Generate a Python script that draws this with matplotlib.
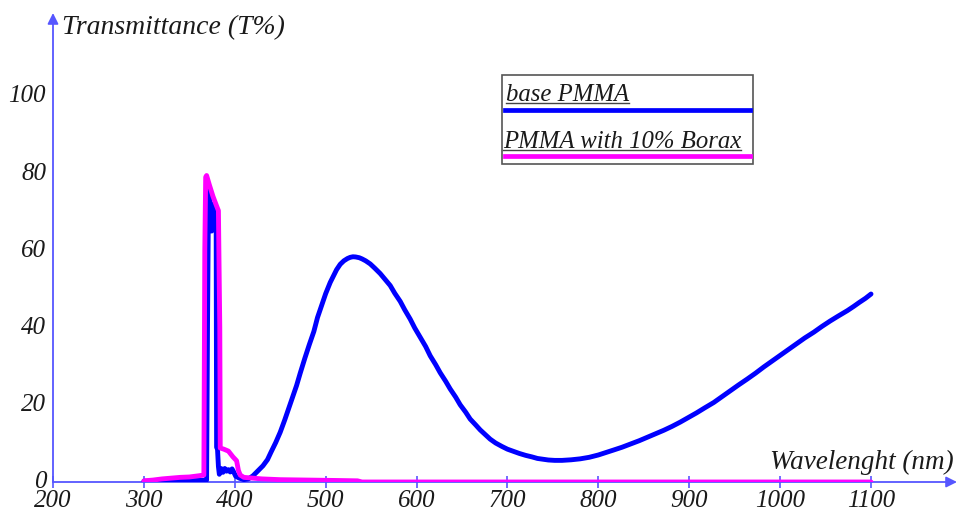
import matplotlib
matplotlib.use('Agg')
import matplotlib.pyplot as plt
import matplotlib.transforms as mtransforms
from matplotlib.lines import Line2D
from matplotlib.patches import Rectangle

# Transmittance spectra (wavelength in nm, T in %)
wl_base = [300, 330, 360, 369, 370, 371, 372, 373, 374.5, 376, 378, 379.5,
           380, 381, 382, 383, 385, 387, 389, 391, 393, 395, 397, 399,
           401, 405, 410, 415, 420, 425, 431, 436, 440, 445, 450, 455, 460,
           464, 468, 472, 477, 482, 487, 491, 496, 500, 505, 509, 512, 516,
           520, 524, 527, 530, 533, 537, 540, 544, 549, 554, 560, 565, 571,
           576, 582, 587, 593, 598, 604, 610, 615, 621, 626, 632, 637, 643,
           648, 654, 659, 665, 670, 676, 681, 687, 694, 700, 707, 713, 720,
           727, 733, 739, 745, 752, 760, 770, 780, 790, 800, 808, 817, 826,
           835, 845, 854, 863, 872, 881, 890, 899, 908, 917, 927, 936, 945,
           954, 964, 973, 982, 991, 1000, 1009, 1018, 1027, 1037, 1046,
           1055, 1064, 1074, 1081, 1087, 1094, 1100]
t_base = [0.2, 0.3, 0.4, 0.5, 40, 72, 76, 70, 65, 72, 70, 68,
          9, 8.5, 4, 2, 3.5, 2.5, 3.5, 2.8, 3.2, 2.6, 3.4, 2.5,
          1.5, 1.0, 0.6, 0.8, 1.6, 2.8, 4.2, 5.8, 7.8, 10.2, 12.9, 16.1, 19.5,
          22.2, 25, 28.2, 32, 35.6, 39, 42.6, 46, 48.8, 51.7, 53.6, 55, 56.4,
          57.3, 57.9, 58.2, 58.35, 58.3, 58.1, 57.8, 57.3, 56.5, 55.4, 54, 52.6, 50.9,
          48.9, 46.8, 44.6, 42.2, 39.9, 37.5, 35.1, 32.7, 30.4, 28.3, 26.1, 24.1, 22.0,
          20, 18.1, 16.3, 14.8, 13.5, 12.2, 11.1, 10.1, 9.2, 8.5, 7.9, 7.4, 6.9,
          6.5, 6.1, 5.9, 5.7, 5.6, 5.6, 5.75, 6.0, 6.4, 7.0, 7.6, 8.3, 9.0,
          9.8, 10.7, 11.6, 12.5, 13.4, 14.4, 15.5, 16.7, 17.9, 19.2, 20.6, 22.1, 23.6,
          25.1, 26.7, 28.2, 29.8, 31.3, 32.8, 34.3, 35.8, 37.3, 38.8, 40.3,
          41.7, 43.0, 44.4, 45.5, 46.5, 47.6, 48.7]

wl_borax = [300, 310, 320, 330, 340, 350, 360, 366, 367, 368, 369, 372,
            376, 380, 382, 383.5, 384, 388, 393, 398, 402, 404, 406, 410,
            420, 430, 450, 480, 510, 535, 540, 1100]
t_borax = [0.3, 0.5, 0.8, 1.0, 1.2, 1.3, 1.6, 1.8, 60, 79, 79.4, 77,
           74, 71.5, 70.3, 40, 8.8, 8.5, 8, 6.5, 5.5, 3, 1.8, 1.2,
           1.0, 0.8, 0.6, 0.5, 0.4, 0.3, 0, 0]

series_names = ['base PMMA', 'PMMA with 10% Borax']
series_colors = ['#0000ff', '#ff00ff']
x_ticks = list(range(200, 1101, 100))
y_ticks = [0, 20, 40, 60, 80, 100]

AXIS_COLOR = '#5656ff'
TEXT_COLOR = '#1a1a1a'
W, H = 960, 510

plt.rcParams['font.family'] = 'Liberation Serif'
plt.rcParams['font.style'] = 'italic'


def fx(px):
    return px / W


def fy(py):
    return 1 - py / H


fig = plt.figure(figsize=(W / 100, H / 100), dpi=100)
fig.patch.set_facecolor('white')
ax = fig.add_axes([fx(53), fy(483), (957 - 53) / W, (483 - 14) / H])
ax.set_xlim(200, 1194.6)
ax.set_ylim(0, 121.5)

ax.plot(wl_base, t_base, color=series_colors[0], lw=3.5,
        solid_joinstyle='round', solid_capstyle='round', zorder=3)
ax.plot(wl_borax, t_borax, color=series_colors[1], lw=3.5,
        solid_joinstyle='round', solid_capstyle='round', zorder=4)

# axes drawn as arrows from the origin
for s in ax.spines.values():
    s.set_visible(False)
arrow = dict(arrowstyle='-|>', color=AXIS_COLOR, lw=1.3, mutation_scale=16,
             shrinkA=0, shrinkB=0)
ax.annotate('', xy=(1, 0), xytext=(0, 0), xycoords='axes fraction',
            arrowprops=arrow, annotation_clip=False, zorder=1)
ax.annotate('', xy=(0, 1), xytext=(0, 0), xycoords='axes fraction',
            arrowprops=arrow, annotation_clip=False, zorder=1)

ax.set_xticks(x_ticks)
ax.set_yticks(y_ticks)
ax.tick_params(axis='x', direction='inout', length=8, width=1.2,
               color=AXIS_COLOR, labelsize=18, labelcolor=TEXT_COLOR, pad=1)
ax.tick_params(axis='y', length=0, labelsize=18, labelcolor=TEXT_COLOR, pad=5)
# y labels sit a little above their gridline
lift = mtransforms.ScaledTranslation(0, 3 / 100, fig.dpi_scale_trans)
for lab in ax.get_yticklabels():
    lab.set_transform(lab.get_transform() + lift)

fig.text(fx(62), fy(28), 'Transmittance (T%)', ha='left', va='center',
         size=20, color=TEXT_COLOR)
fig.text(fx(954), fy(462), 'Wavelenght (nm)', ha='right', va='center',
         size=19.5, color=TEXT_COLOR)

# legend: underlined name with a colour bar beneath it
fig.add_artist(Rectangle((fx(502), fy(165)), (753 - 502) / W, (165 - 76) / H,
                         transform=fig.transFigure, facecolor='white',
                         edgecolor='#555555', lw=1.2, zorder=5))
renderer = fig.canvas.get_renderer()
entries = [(506, 101.5), (503, 148)]
for (tx, base_y), name, col in zip(entries, series_names, series_colors):
    t = fig.text(fx(tx), fy(base_y), name, ha='left', va='baseline',
                 size=17.8, color=TEXT_COLOR, zorder=6)
    bb = t.get_window_extent(renderer)
    fig.add_artist(Line2D([bb.x0 / W, bb.x1 / W], [fy(base_y + 2.5)] * 2,
                          transform=fig.transFigure, color='#444444',
                          lw=1.0, zorder=6))
    fig.add_artist(Line2D([fx(505), fx(750)], [fy(base_y + 9)] * 2,
                          transform=fig.transFigure, color=col,
                          lw=3.4, zorder=6))

fig.savefig('out.png', dpi=100, facecolor='white')
